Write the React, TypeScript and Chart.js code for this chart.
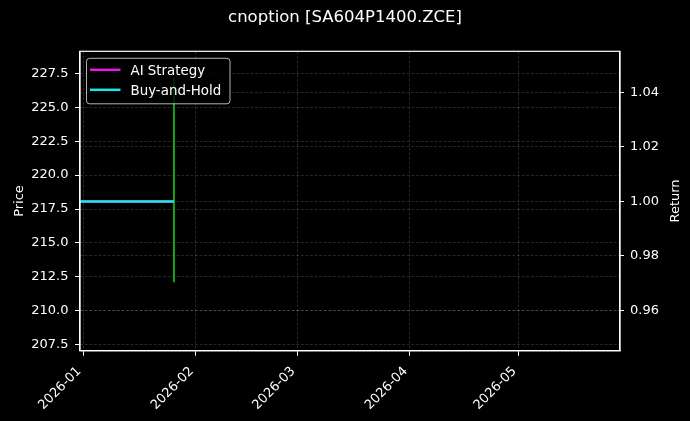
import { useEffect, useRef } from "react"
import { Chart, registerables } from "chart.js"

Chart.register(...registerables)

const TITLE = "cnoption [SA604P1400.ZCE]"

// x axis months (tick labels)
const monthLabels = ["2026-01", "2026-02", "2026-03", "2026-04", "2026-05"]

// left axis (price) and right axis (return) tick labels
const priceTicks = [207.5, 210.0, 212.5, 215.0, 217.5, 220.0, 222.5, 225.0, 227.5]
const returnTicks = [0.96, 0.98, 1.0, 1.02, 1.04]

// equity curves
const returnDates = ["2025-12-31", "2026-01-26"]
const aiReturn = [1.0, 1.0]
const bhReturn = [1.0, 1.0]

// price bar (high / low)
const candleDates = ["2026-01-26"]
const candleHigh = [227.2]
const candleLow = [212.1]

const DAY = 86400000
const origin = Date.UTC(2026, 0, 1)
const toDay = (s: string) => (Date.parse(s + "T00:00:00Z") - origin) / DAY

const FONT = "'DejaVu Sans', sans-serif"
const AI_COLOR = "#e619e6"
const BH_COLOR = "#19e6e6"
const GRID = "rgba(255, 255, 255, 0.22)"

Chart.defaults.font.family = FONT
Chart.defaults.color = "#ffffff"

// frame, inner legend and axis titles
const decorPlugin = {
  id: "decor",
  afterDraw(chart: Chart) {
    const { ctx, chartArea } = chart
    const { left, top, right, bottom } = chartArea
    ctx.save()
    ctx.strokeStyle = "#ffffff"
    ctx.lineWidth = 1.2
    ctx.strokeRect(left, top, right - left, bottom - top)

    // axis titles (matplotlib style, both read bottom-to-top)
    ctx.fillStyle = "#ffffff"
    ctx.font = `13px ${FONT}`
    ctx.textAlign = "center"
    ctx.textBaseline = "alphabetic"
    const midY = (top + bottom) / 2
    ctx.save()
    ctx.translate(22.5, midY)
    ctx.rotate(-Math.PI / 2)
    ctx.fillText("Price", 0, 0)
    ctx.restore()
    ctx.save()
    ctx.translate(678.5, midY)
    ctx.rotate(-Math.PI / 2)
    ctx.fillText("Return", 0, 0)
    ctx.restore()

    // legend box
    const bx = left + 6.5
    const by = top + 7
    const bw = 143.5
    const bh = 45.5
    ctx.beginPath()
    ctx.roundRect(bx, by, bw, bh, 3)
    ctx.fillStyle = "rgba(0, 0, 0, 0.8)"
    ctx.fill()
    ctx.strokeStyle = "rgba(210, 210, 210, 0.85)"
    ctx.lineWidth = 1
    ctx.stroke()
    const items = [
      { label: "AI Strategy", color: AI_COLOR },
      { label: "Buy-and-Hold", color: BH_COLOR },
    ]
    items.forEach((it, i) => {
      const cy = by + 11.5 + i * 20
      ctx.strokeStyle = it.color
      ctx.lineWidth = 2.5
      ctx.beginPath()
      ctx.moveTo(bx + 3.5, cy)
      ctx.lineTo(bx + 34, cy)
      ctx.stroke()
      ctx.fillStyle = "#ffffff"
      ctx.textAlign = "left"
      ctx.font = `13.4px ${FONT}`
      ctx.fillText(it.label, bx + 44, cy + 4.8)
    })
    ctx.restore()
  },
}

export default function App() {
  const chartRef = useRef<HTMLCanvasElement>(null)
  const chartInstance = useRef<Chart | null>(null)

  useEffect(() => {
    document.body.style.margin = "0"
    document.body.style.background = "#000"
    if (!chartRef.current) return
    if (chartInstance.current) chartInstance.current.destroy()

    const monthDays = monthLabels.map((m) => toDay(m + "-01"))
    const candlePoints = candleDates.flatMap((d, i) => [
      { x: toDay(d), y: candleLow[i] },
      { x: toDay(d), y: candleHigh[i] },
    ])

    const tickFont = { family: FONT, size: 13 }
    const gridOpts = (len: number) => ({
      color: GRID,
      lineWidth: 0.7,
      tickColor: "#ffffff",
      tickLength: len,
      tickWidth: 1,
    })
    const borderOpts = { color: "#ffffff", width: 1.2, dash: [2.8, 1.8] }

    chartInstance.current = new Chart(chartRef.current, {
      type: "line",
      data: {
        datasets: [
          {
            label: "Buy-and-Hold",
            data: returnDates.map((d, i) => ({ x: toDay(d), y: bhReturn[i] })),
            borderColor: BH_COLOR,
            borderWidth: 2.5,
            pointRadius: 0,
            yAxisID: "y1",
            clip: 0,
          },
          {
            label: "AI Strategy",
            data: returnDates.map((d, i) => ({ x: toDay(d), y: aiReturn[i] })),
            borderColor: AI_COLOR,
            borderWidth: 2.5,
            pointRadius: 0,
            yAxisID: "y1",
            clip: 0,
          },
          {
            label: "Price",
            data: candlePoints,
            borderColor: "#14a814",
            borderWidth: 2,
            pointRadius: 0,
            yAxisID: "y",
          },
        ],
      },
      options: {
        animation: false,
        responsive: true,
        maintainAspectRatio: false,
        layout: { padding: 0 },
        plugins: {
          legend: { display: false },
          tooltip: { enabled: false },
          title: {
            display: true,
            text: TITLE,
            color: "#ffffff",
            font: { family: FONT, size: 16.5, weight: "normal" },
            padding: { top: 8.2, bottom: 23.3 },
          },
        },
        scales: {
          x: {
            type: "linear",
            min: -0.9,
            max: 148,
            afterBuildTicks: (scale: any) => {
              scale.ticks = monthDays.map((v) => ({ value: v }))
            },
            afterFit: (scale: any) => {
              scale.height = 70.3
            },
            ticks: {
              color: "#ffffff",
              font: tickFont,
              minRotation: 45,
              maxRotation: 45,
              padding: 8,
              labelOffset: -4,
              autoSkip: false,
              callback: (_v: any, i: number) => monthLabels[i],
            },
            grid: gridOpts(5),
            border: borderOpts,
          },
          y: {
            type: "linear",
            position: "left",
            min: 207.06,
            max: 229.12,
            afterBuildTicks: (scale: any) => {
              scale.ticks = priceTicks.map((v) => ({ value: v }))
            },
            afterFit: (scale: any) => {
              scale.width = 80
            },
            ticks: {
              color: "#ffffff",
              font: tickFont,
              padding: 6.5,
              callback: (v: any) => Number(v).toFixed(1),
            },
            grid: gridOpts(5),
            border: borderOpts,
          },
          y1: {
            type: "linear",
            position: "right",
            min: 0.9453,
            max: 1.055,
            afterBuildTicks: (scale: any) => {
              scale.ticks = returnTicks.map((v) => ({ value: v }))
            },
            afterFit: (scale: any) => {
              scale.width = 70
            },
            ticks: {
              color: "#ffffff",
              font: tickFont,
              padding: 6,
              callback: (v: any) => Number(v).toFixed(2),
            },
            grid: gridOpts(4),
            border: borderOpts,
          },
        },
      },
      plugins: [decorPlugin],
    })

    return () => {
      if (chartInstance.current) {
        chartInstance.current.destroy()
        chartInstance.current = null
      }
    }
  }, [])

  return (
    <div style={{ position: "relative", width: 690, height: 421, background: "#000" }}>
      <canvas ref={chartRef} />
    </div>
  )
}
